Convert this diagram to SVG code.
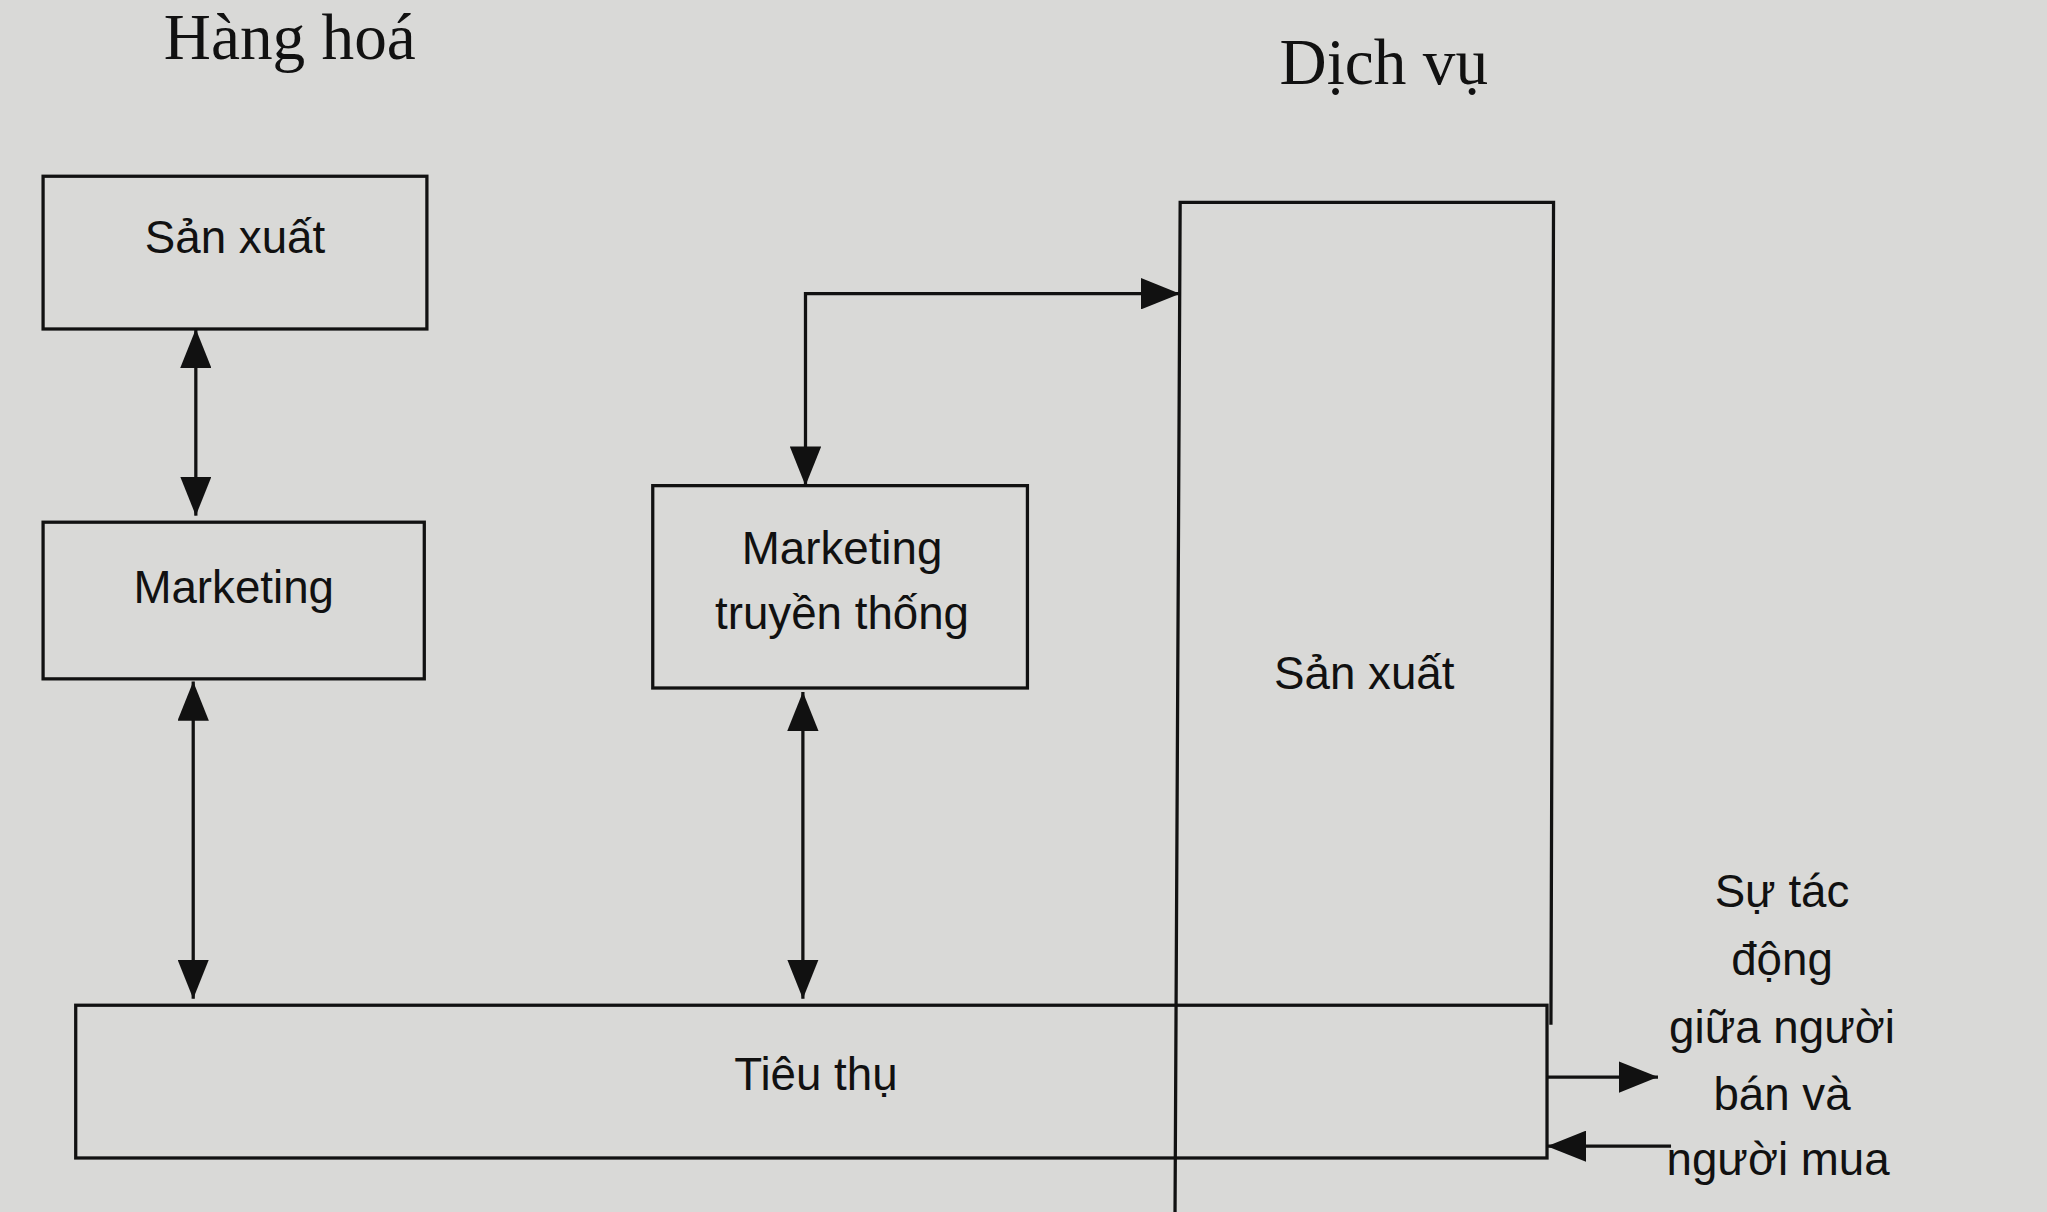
<svg xmlns="http://www.w3.org/2000/svg" width="2047" height="1212" viewBox="0 0 2047 1212">
<defs>
<marker id="ah" viewBox="0 0 30 24" refX="30" refY="12" markerWidth="30" markerHeight="24" markerUnits="userSpaceOnUse" orient="auto-start-reverse"><path d="M0,0 L30,12 L0,24 z" fill="#111"/></marker>
<style>
.b{fill:none;stroke:#111;stroke-width:2.5}
.c{fill:none;stroke:#111;stroke-width:2.5;marker-end:url(#ah)}
.d{fill:none;stroke:#111;stroke-width:2.5;marker-start:url(#ah);marker-end:url(#ah)}
.t{font-family:"Liberation Sans",Arial,sans-serif;font-size:35px;fill:#111;text-anchor:middle}
.h{font-family:"Liberation Serif",serif;font-size:50px;fill:#111;text-anchor:middle}
</style>
</defs>
<rect width="2047" height="1212" fill="#d9d9d7"/>
<g transform="scale(1.3055)">
<g id="head1"><text class="h" x="222" y="45">Hàng hoá</text></g>
<g id="head2"><text class="h" x="1060" y="64">Dịch vụ</text></g>
<g id="sx1"><rect class="b" x="33" y="135" width="294" height="117"/><text class="t" x="180" y="194">Sản xuất</text></g>
<g id="mk"><rect class="b" x="33" y="400" width="292" height="120"/><text class="t" x="179" y="462">Marketing</text></g>
<g id="mktt"><rect class="b" x="500" y="372" width="287" height="155"/><text class="t" x="645" y="432">Marketing</text><text class="t" x="645" y="482">truyền thống</text></g>
<g id="sx2"><path class="b" d="M900,940 L904,155 L1190,155 L1188,785"/><text class="t" x="1045" y="528">Sản xuất</text></g>
<g id="tt"><rect class="b" x="58" y="770" width="1127" height="117"/><text class="t" x="625" y="835">Tiêu thụ</text></g>
<g id="note">
<text class="t" x="1365" y="695">Sự tác</text>
<text class="t" x="1365" y="747">động</text>
<text class="t" x="1365" y="799">giữa người</text>
<text class="t" x="1365" y="850">bán và</text>
<text class="t" x="1362" y="900">người mua</text>
</g>
<g id="connectors">
<line class="d" x1="150" y1="252" x2="150" y2="395"/>
<line class="d" x1="148" y1="522" x2="148" y2="765"/>
<line class="d" x1="615" y1="530" x2="615" y2="765"/>
<path class="d" d="M617,372 L617,225 L904,225"/>
<line class="c" x1="1185" y1="825" x2="1270" y2="825"/>
<line class="c" x1="1280" y1="878" x2="1185" y2="878"/>
</g>
</g>
</svg>
